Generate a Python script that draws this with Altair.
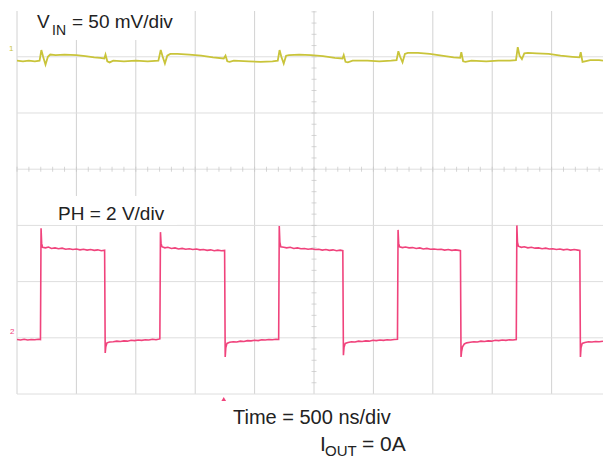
import altair as alt
import pandas as pd

# ---- data (time in divisions of 500 ns, level in screen divisions) ----
t_ph = [0.00, 0.06, 0.12, 0.18, 0.24, 0.30, 0.36, 0.395,
        0.405, 0.415, 0.43, 0.48, 0.53, 0.58, 0.64, 0.70, 0.76, 0.82, 0.88, 0.94, 1.00, 1.06, 1.12, 1.18, 1.24, 1.30, 1.36, 1.42, 1.475,
        1.485, 1.495, 1.515, 1.56, 1.62, 1.68, 1.74, 1.80, 1.86, 1.92, 1.98, 2.04, 2.10, 2.16, 2.22, 2.28, 2.34, 2.405,
        2.415, 2.425, 2.44, 2.49, 2.54, 2.60, 2.66, 2.72, 2.78, 2.84, 2.90, 2.96, 3.02, 3.08, 3.14, 3.20, 3.26, 3.32, 3.38, 3.44, 3.495,
        3.505, 3.515, 3.535, 3.58, 3.64, 3.70, 3.76, 3.82, 3.88, 3.94, 4.00, 4.06, 4.12, 4.18, 4.24, 4.30, 4.36, 4.405,
        4.415, 4.425, 4.44, 4.49, 4.54, 4.60, 4.66, 4.72, 4.78, 4.84, 4.90, 4.96, 5.02, 5.08, 5.14, 5.20, 5.26, 5.32, 5.38, 5.44, 5.485,
        5.495, 5.505, 5.525, 5.57, 5.63, 5.69, 5.75, 5.81, 5.87, 5.93, 5.99, 6.05, 6.11, 6.17, 6.23, 6.29, 6.35, 6.405,
        6.415, 6.425, 6.44, 6.49, 6.54, 6.60, 6.66, 6.72, 6.78, 6.84, 6.90, 6.96, 7.02, 7.08, 7.14, 7.20, 7.26, 7.32, 7.38, 7.44, 7.465,
        7.475, 7.485, 7.50, 7.53, 7.57, 7.63, 7.69, 7.75, 7.81, 7.87, 7.93, 7.99, 8.05, 8.11, 8.17, 8.23, 8.29, 8.35, 8.405,
        8.415, 8.425, 8.44, 8.49, 8.54, 8.60, 8.66, 8.72, 8.78, 8.84, 8.90, 8.96, 9.02, 9.08, 9.14, 9.20, 9.26, 9.32, 9.38, 9.44, 9.475,
        9.485, 9.495, 9.515, 9.56, 9.62, 9.68, 9.74, 9.80, 9.865]
v_ph = [0.97, 0.96, 0.975, 0.96, 0.97, 0.965, 0.975, 0.97,
        2.95, 2.68, 2.61, 2.60, 2.615, 2.59, 2.60, 2.585, 2.595, 2.575, 2.585, 2.57, 2.58, 2.565, 2.575, 2.56, 2.57, 2.555, 2.565, 2.55, 2.56,
        0.73, 0.84, 0.91, 0.925, 0.93, 0.94, 0.935, 0.945, 0.94, 0.955, 0.95, 0.96, 0.955, 0.965, 0.96, 0.975, 0.965, 0.98,
        2.88, 2.68, 2.62, 2.60, 2.61, 2.59, 2.60, 2.58, 2.59, 2.575, 2.585, 2.57, 2.58, 2.565, 2.57, 2.555, 2.565, 2.55, 2.56, 2.55, 2.555,
        0.66, 0.82, 0.90, 0.92, 0.93, 0.925, 0.94, 0.935, 0.95, 0.945, 0.955, 0.95, 0.965, 0.96, 0.97, 0.965, 0.975, 0.97,
        2.99, 2.70, 2.62, 2.61, 2.60, 2.61, 2.59, 2.60, 2.585, 2.59, 2.575, 2.585, 2.57, 2.575, 2.56, 2.57, 2.555, 2.565, 2.55, 2.56, 2.55,
        0.69, 0.83, 0.90, 0.915, 0.93, 0.925, 0.94, 0.935, 0.945, 0.94, 0.955, 0.95, 0.96, 0.955, 0.965, 0.96, 0.97, 0.975,
        2.92, 2.68, 2.62, 2.605, 2.615, 2.60, 2.605, 2.59, 2.60, 2.58, 2.59, 2.575, 2.58, 2.57, 2.575, 2.56, 2.57, 2.555, 2.565, 2.555, 2.55,
        0.66, 0.76, 0.84, 0.89, 0.91, 0.92, 0.93, 0.925, 0.94, 0.935, 0.945, 0.94, 0.955, 0.95, 0.96, 0.955, 0.965, 0.96, 0.97,
        3.00, 2.70, 2.63, 2.61, 2.62, 2.60, 2.61, 2.595, 2.60, 2.585, 2.595, 2.58, 2.585, 2.57, 2.58, 2.565, 2.575, 2.56, 2.57, 2.56, 2.555,
        0.66, 0.82, 0.90, 0.915, 0.93, 0.925, 0.935, 0.93, 0.94]

t_vin = [0.00, 0.10, 0.20, 0.30, 0.38, 0.41, 0.44, 0.48, 0.52, 0.56, 0.65, 0.80, 1.00, 1.15, 1.30, 1.40, 1.47, 1.49, 1.52, 1.56, 1.62,
         1.80, 2.00, 2.20, 2.38, 2.42, 2.45, 2.49, 2.53, 2.58, 2.70, 2.90, 3.10, 3.30, 3.48, 3.51, 3.54, 3.58, 3.65,
         3.90, 4.10, 4.30, 4.39, 4.42, 4.45, 4.49, 4.53, 4.58, 4.75, 4.95, 5.15, 5.35, 5.48, 5.50, 5.53, 5.57, 5.65,
         5.90, 6.10, 6.30, 6.39, 6.42, 6.45, 6.49, 6.53, 6.58, 6.75, 6.95, 7.15, 7.35, 7.46, 7.48, 7.51, 7.55, 7.65,
         7.90, 8.10, 8.30, 8.40, 8.43, 8.46, 8.50, 8.54, 8.60, 8.75, 8.95, 9.15, 9.35, 9.47, 9.49, 9.52, 9.56, 9.65, 9.80, 9.865]
v_vin = [5.93, 5.92, 5.93, 5.92, 5.93, 6.12, 6.00, 5.86, 6.00, 6.04, 6.03, 6.04, 6.03, 6.01, 5.99, 5.98, 5.97, 6.04, 5.92, 5.90, 5.93,
         5.92, 5.93, 5.92, 5.93, 6.12, 6.01, 5.88, 6.02, 6.05, 6.05, 6.04, 6.02, 5.99, 5.97, 6.02, 5.92, 5.91, 5.93,
         5.92, 5.91, 5.92, 5.93, 6.12, 6.00, 5.88, 6.02, 6.03, 6.04, 6.03, 6.01, 5.98, 5.97, 6.03, 5.91, 5.90, 5.93,
         5.93, 5.92, 5.93, 5.94, 6.10, 6.00, 5.90, 6.05, 6.07, 6.07, 6.05, 6.02, 5.99, 5.98, 6.08, 5.92, 5.91, 5.93,
         5.92, 5.93, 5.93, 5.94, 6.17, 6.02, 5.96, 6.06, 6.07, 6.06, 6.05, 6.02, 6.00, 5.99, 6.08, 5.91, 5.92, 5.94, 5.94, 5.93]

grid_x = [0, 1, 2, 3, 4, 5, 6, 7, 8, 9]
grid_y = [0, 1, 2, 3, 4, 5, 6]
trigger_t = [3.48]

YELLOW = "#c9c43a"
PINK = "#f0437c"
FONT = "Liberation Sans"

W, H = 586, 386
TOP = 3
xs = alt.Scale(domain=[0, 9.865], nice=False, zero=False)
ys = alt.Scale(domain=[0, 6.868], nice=False, zero=False)

ph_df = pd.DataFrame({"t": t_ph, "v": v_ph, "i": range(len(t_ph))})
vin_df = pd.DataFrame({"t": t_vin, "v": v_vin, "i": range(len(t_vin))})

vgrid = alt.Chart(pd.DataFrame({"x": grid_x})).mark_rule(color="#d2d2d2", strokeWidth=1).encode(
    x=alt.X("x:Q", scale=xs, axis=None), y=alt.value(TOP), y2=alt.value(H))
hgrid = alt.Chart(pd.DataFrame({"y": grid_y})).mark_rule(color="#dedede", strokeWidth=1).encode(
    y=alt.Y("y:Q", scale=ys, axis=None))

minor = [round(k * 0.2, 2) for k in range(0, 50)]
hticks = alt.Chart(pd.DataFrame({"x": minor, "y": [4] * len(minor)})).mark_tick(
    orient="vertical", size=5, thickness=1, color="#c4c4c4").encode(
    x=alt.X("x:Q", scale=xs, axis=None), y=alt.Y("y:Q", scale=ys, axis=None))
minor_y = [round(k * 0.2, 2) for k in range(1, 35)]
vticks = alt.Chart(pd.DataFrame({"x": [5] * len(minor_y), "y": minor_y})).mark_tick(
    orient="horizontal", size=5, thickness=1, color="#c4c4c4").encode(
    x=alt.X("x:Q", scale=xs, axis=None), y=alt.Y("y:Q", scale=ys, axis=None))

def box(x1, x2, y1, y2, color="white"):
    return alt.Chart(pd.DataFrame({"a": [0]})).mark_rect(color=color).encode(
        x=alt.value(x1), x2=alt.value(x2), y=alt.value(y1), y2=alt.value(y2))

ph_line = alt.Chart(ph_df).mark_line(color=PINK, strokeWidth=1.6, clip=True).encode(
    x=alt.X("t:Q", scale=xs, axis=None), y=alt.Y("v:Q", scale=ys, axis=None), order="i:Q")
vin_line = alt.Chart(vin_df).mark_line(color=YELLOW, strokeWidth=1.8, clip=True).encode(
    x=alt.X("t:Q", scale=xs, axis=None), y=alt.Y("v:Q", scale=ys, axis=None), order="i:Q")

trig = alt.Chart(pd.DataFrame({"t": trigger_t})).mark_point(
    shape="triangle-up", filled=True, size=22, color=PINK, opacity=1).encode(
    x=alt.X("t:Q", scale=xs, axis=None), y=alt.value(391))

def label(s, x, y, size, color="#222222"):
    return alt.Chart(pd.DataFrame({"s": [s]})).mark_text(
        align="left", baseline="alphabetic", font=FONT, fontSize=size, color=color).encode(
        text="s:N", x=alt.value(x), y=alt.value(y))

chart = alt.layer(
    vgrid, hgrid, hticks, vticks,
    box(8, 168, TOP, 32), box(23, 160, 188, 217),
    vin_line, ph_line, trig,
    label("V", 20, 20, 19), label("IN", 35, 27, 14), label("= 50 mV/div", 55, 20, 19),
    label("PH = 2 V/div", 41, 212, 19),
    label("Time = 500 ns/div", 216, 416, 20),
    label("I", 303, 443, 21), label("OUT", 308, 448, 15), label("= 0A", 345, 443, 21),
    label("1", -8, 43, 8, YELLOW), label("2", -7, 326, 8, PINK),
).properties(
    width=W, height=H,
    autosize=alt.AutoSizeParams(type="none"),
    padding={"left": 9, "top": 0, "right": 0, "bottom": 64},
    background="white",
).configure_view(stroke=None)

chart.save("out.html", embed_options={"renderer": "svg", "actions": False})
